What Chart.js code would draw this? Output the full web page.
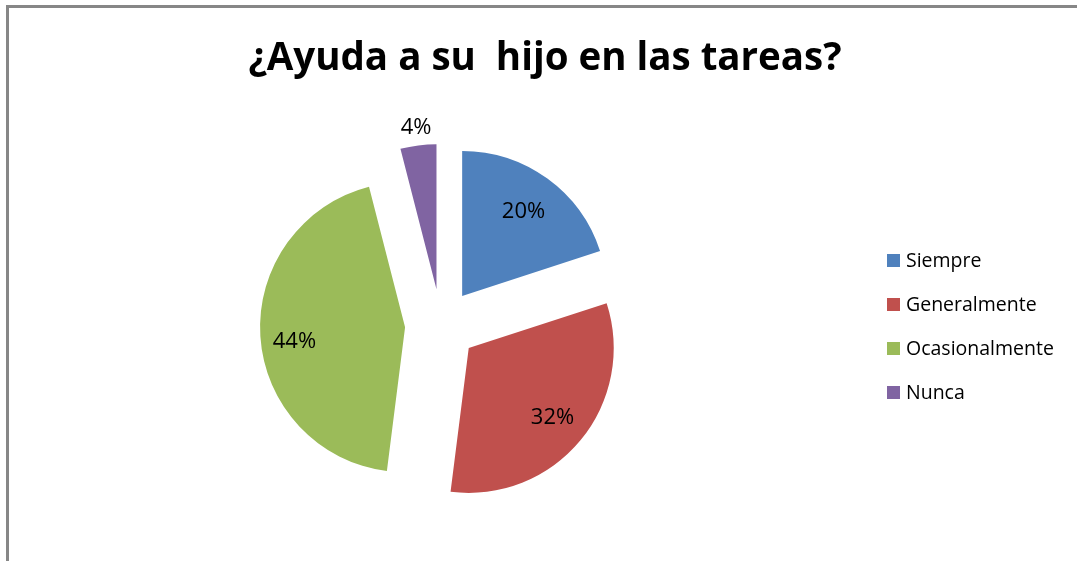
<!DOCTYPE html>
<html>
<head>
<meta charset="utf-8">
<script src="https://cdn.jsdelivr.net/npm/chart.js@4.4.0/dist/chart.umd.min.js"></script>
<style>
  html, body { margin: 0; padding: 0; background: #fff; }
  #wrap { position: relative; width: 1077px; height: 561px; overflow: hidden; font-family: 'Open Sans', sans-serif; }
  #frame {
    position: absolute; left: 6px; top: 5px; right: -10px; bottom: -10px;
    border-left: 3px solid #878787; border-top: 3px solid #878787;
  }
  #chart { position: absolute; left: 0; top: 0; }
  #titulo {
    position: absolute; left: 0; top: 32px; width: 1090px; text-align: center;
    font-size: 38.5px; font-weight: bold; line-height: 46px; color: #000; white-space: pre;
  }
  .ley-item { position: absolute; left: 887px; height: 20px; white-space: nowrap; }
  .ley-caja { position: absolute; left: 0; top: 4px; width: 13px; height: 13px; }
  .ley-texto { position: absolute; left: 19px; top: 0; font-size: 19.5px; line-height: 20px; color: #000; }
</style>
</head>
<body>
<div id="wrap">
  <div id="frame"></div>
  <canvas id="chart" width="1077" height="561"></canvas>
  <div id="titulo"></div>
  <div id="leyenda"></div>
</div>
<script>
// datos del grafico
const titulo = "¿Ayuda a su  hijo en las tareas?";
const categorias = ["Siempre", "Generalmente", "Ocasionalmente", "Nunca"];
const porcentajes = [20, 32, 44, 4];
const colores = ["#4F81BD", "#C0504D", "#9BBB59", "#8064A2"];

// separacion (px) de cada porcion respecto al centro
const separacion = 36;
// distancia de cada etiqueta desde la punta de su porcion (fraccion del radio)
const posEtiqueta = [0.72, 0.75, 0.77, 1.12];
// pequeno giro de la etiqueta (grados), como lo coloca Excel
const giroEtiqueta = [0, 0, -4, 0];

document.getElementById("titulo").textContent = titulo;

// Leyenda a la derecha
const leyenda = document.getElementById("leyenda");
categorias.forEach((nombre, i) => {
  const item = document.createElement("div");
  item.className = "ley-item";
  item.style.top = (250 + i * 44) + "px";
  item.innerHTML = '<span class="ley-caja" style="background:' + colores[i] + '"></span>' +
    '<span class="ley-texto">' + nombre + '</span>';
  leyenda.appendChild(item);
});

// Plugin: dibuja las porciones separadas (pie "explotado") sin agrandar el radio
const pieSeparado = {
  id: "pieSeparado",
  beforeDatasetDraw(chart, args) {
    const ctx = chart.ctx;
    args.meta.data.forEach((arc) => {
      const mid = (arc.startAngle + arc.endAngle) / 2;
      ctx.save();
      ctx.translate(Math.cos(mid) * separacion, Math.sin(mid) * separacion);
      arc.draw(ctx);
      ctx.restore();
    });
    return false;
  }
};

// Plugin para dibujar los porcentajes sobre cada porcion
const etiquetasPie = {
  id: "etiquetasPie",
  afterDatasetsDraw(chart) {
    const ctx = chart.ctx;
    const meta = chart.getDatasetMeta(0);
    ctx.save();
    ctx.font = "22px 'Open Sans'";
    ctx.fillStyle = "#000";
    ctx.textAlign = "center";
    ctx.textBaseline = "middle";
    meta.data.forEach((arc, i) => {
      const mid = (arc.startAngle + arc.endAngle) / 2;
      const cx = arc.x + Math.cos(mid) * separacion;
      const cy = arc.y + Math.sin(mid) * separacion;
      const a = mid + giroEtiqueta[i] * Math.PI / 180;
      const r = arc.outerRadius * posEtiqueta[i];
      ctx.fillText(porcentajes[i] + "%", cx + Math.cos(a) * r, cy + Math.sin(a) * r);
    });
    ctx.restore();
  }
};

new Chart(document.getElementById("chart"), {
  type: "pie",
  data: {
    labels: categorias,
    datasets: [{
      data: porcentajes,
      backgroundColor: colores,
      borderWidth: 0,
      hoverOffset: 0
    }]
  },
  options: {
    responsive: false,
    animation: false,
    layout: { padding: { left: 248, right: 443, top: 180, bottom: 91 } },
    plugins: {
      title: { display: false },
      legend: { display: false },
      tooltip: { enabled: false }
    }
  },
  plugins: [pieSeparado, etiquetasPie]
});
</script>
</body>
</html>
